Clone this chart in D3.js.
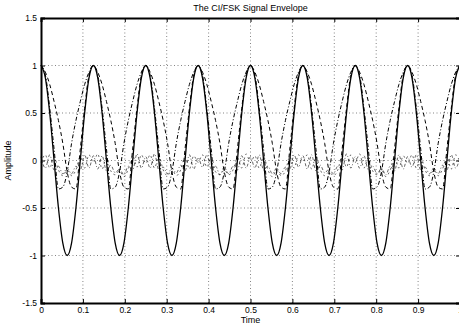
<!DOCTYPE html>
<html>
<head>
<meta charset="utf-8">
<script src="https://cdn.jsdelivr.net/npm/d3@7"></script>
<style>
  html, body { margin: 0; padding: 0; background: #fff; }
  svg { display: block; font-family: "Liberation Sans", Arial, sans-serif; }
</style>
</head>
<body>
<svg id="chart" width="459" height="329"></svg>
<script>
const W = 459, H = 329;
const margin = {top: 18, right: -1, bottom: 26, left: 41};

// sample spacing along Time (1/96 s)
const SAMPLE_STEP = 1 / 96;

const xTicks = [0, 0.1, 0.2, 0.3, 0.4, 0.5, 0.6, 0.7, 0.8, 0.9, 1];
const yTicks = [-1.5, -1, -0.5, 0, 0.5, 1, 1.5];

// solid carrier
const carrier = [
  1, .87, .5, 0, -.5, -.87, -1, -.87, -.5, 0, .5, .87,
  1, .87, .5, 0, -.5, -.87, -1, -.87, -.5, 0, .5, .87,
  1, .87, .5, 0, -.5, -.87, -1, -.87, -.5, 0, .5, .87,
  1, .87, .5, 0, -.5, -.87, -1, -.87, -.5, 0, .5, .87,
  1, .87, .5, 0, -.5, -.87, -1, -.87, -.5, 0, .5, .87,
  1, .87, .5, 0, -.5, -.87, -1, -.87, -.5, 0, .5, .87,
  1, .87, .5, 0, -.5, -.87, -1, -.87, -.5, 0, .5, .87,
  1, .87, .5, 0, -.5, -.87, -1, -.87, -.5, 0, .5, .87,
  1
];

// dashed envelope
const envA = [
  1, .93, .8, .62, .42, .18, -.12, -.28, -.3, .12, .55, .9,
  1, .93, .8, .62, .42, .18, -.12, -.28, -.3, .12, .55, .9,
  1, .93, .8, .62, .42, .18, -.12, -.28, -.3, .12, .55, .9,
  1, .93, .8, .62, .42, .18, -.12, -.28, -.3, .12, .55, .9,
  1, .93, .8, .62, .42, .18, -.12, -.28, -.3, .12, .55, .9,
  1, .93, .8, .62, .42, .18, -.12, -.28, -.3, .12, .55, .9,
  1, .93, .8, .62, .42, .18, -.12, -.28, -.3, .12, .55, .9,
  1, .93, .8, .62, .42, .18, -.12, -.28, -.3, .12, .55, .9,
  1
];

// dash-dot envelope
const envB = [
  1, .9, .55, .12, -.3, -.28, -.12, .18, .42, .62, .8, .93,
  1, .9, .55, .12, -.3, -.28, -.12, .18, .42, .62, .8, .93,
  1, .9, .55, .12, -.3, -.28, -.12, .18, .42, .62, .8, .93,
  1, .9, .55, .12, -.3, -.28, -.12, .18, .42, .62, .8, .93,
  1, .9, .55, .12, -.3, -.28, -.12, .18, .42, .62, .8, .93,
  1, .9, .55, .12, -.3, -.28, -.12, .18, .42, .62, .8, .93,
  1, .9, .55, .12, -.3, -.28, -.12, .18, .42, .62, .8, .93,
  1, .9, .55, .12, -.3, -.28, -.12, .18, .42, .62, .8, .93,
  1
];

// small residual envelopes around zero
const resid1 = [
  -.02, .06, -.08, .04, -.1, -.16, -.1, -.16, -.1, .04, -.08, .06,
  -.02, .07, -.09, .03, -.11, -.15, -.11, -.17, -.09, .05, -.07, .06,
  -.03, .06, -.08, .05, -.1, -.16, -.09, -.16, -.1, .04, -.09, .05,
  -.02, .06, -.07, .04, -.12, -.15, -.1, -.15, -.1, .03, -.08, .07,
  -.02, .05, -.08, .04, -.1, -.17, -.1, -.16, -.11, .04, -.08, .06,
  -.01, .06, -.09, .04, -.1, -.16, -.12, -.16, -.1, .05, -.07, .06,
  -.02, .07, -.08, .03, -.11, -.15, -.1, -.17, -.1, .04, -.08, .05,
  -.03, .06, -.08, .04, -.1, -.16, -.1, -.16, -.09, .04, -.09, .06,
  -.02
];

const resid2 = [
  .04, -.08, .06, -.1, -.06, -.14, -.08, -.14, -.06, -.1, .06, -.08,
  .05, -.09, .05, -.11, -.05, -.13, -.09, -.15, -.06, -.1, .07, -.08,
  .04, -.08, .07, -.1, -.07, -.14, -.08, -.13, -.05, -.11, .06, -.09,
  .03, -.07, .06, -.09, -.06, -.15, -.07, -.14, -.06, -.1, .05, -.08,
  .04, -.08, .06, -.1, -.06, -.14, -.08, -.14, -.07, -.09, .06, -.07,
  .05, -.09, .06, -.11, -.05, -.13, -.09, -.14, -.06, -.1, .07, -.08,
  .04, -.08, .05, -.1, -.06, -.14, -.08, -.15, -.06, -.11, .06, -.09,
  .04, -.07, .06, -.1, -.07, -.14, -.08, -.14, -.05, -.1, .06, -.08,
  .04
];

const svg = d3.select("#chart");
const x = d3.scaleLinear().domain([0, 1]).range([margin.left, W - margin.right]);
const y = d3.scaleLinear().domain([-1.5, 1.5]).range([H - margin.bottom, margin.top]);
const fmt = d => String(d);

// dotted grid
const grid = svg.append("g")
  .attr("stroke", "#000")
  .attr("stroke-width", 0.6)
  .attr("stroke-dasharray", "1,2.5")
  .attr("opacity", 0.8);
grid.selectAll("line.gx")
  .data(xTicks.filter(d => d > 0 && d < 1))
  .join("line")
  .attr("class", "gx")
  .attr("x1", d => x(d)).attr("x2", d => x(d))
  .attr("y1", y(-1.5)).attr("y2", y(1.5));
grid.selectAll("line.gy")
  .data(yTicks.filter(d => d > -1.5 && d < 1.5))
  .join("line")
  .attr("class", "gy")
  .attr("x1", x(0)).attr("x2", x(1))
  .attr("y1", d => y(d)).attr("y2", d => y(d));

const series = [
  {values: resid1, dash: "2,3", width: 0.6},
  {values: resid2, dash: "3,2,1,2", width: 0.6},
  {values: envB, dash: "4,2,1,2", width: 1},
  {values: envA, dash: "4,3", width: 1},
  {values: carrier, dash: null, width: 1.3}
];

const line = d3.line()
  .x((d, i) => x(i * SAMPLE_STEP))
  .y(d => y(d))
  .curve(d3.curveMonotoneX);

svg.append("g")
  .selectAll("path")
  .data(series)
  .join("path")
  .attr("d", d => line(d.values))
  .attr("fill", "none")
  .attr("stroke", "#000")
  .attr("stroke-width", d => d.width)
  .attr("stroke-dasharray", d => d.dash);

// axes box
const axisG = svg.append("g");
const styleAxis = g => {
  g.select(".domain").attr("stroke-width", 2);
  g.selectAll("text")
    .attr("fill", "#000")
    .attr("font-size", 8.5)
    .attr("font-family", "Liberation Sans, Arial, sans-serif");
};

axisG.append("g")
  .attr("transform", `translate(0,${y(-1.5)})`)
  .call(d3.axisBottom(x).tickValues(xTicks).tickSize(-4).tickPadding(4).tickFormat(fmt))
  .call(styleAxis);

axisG.append("g")
  .attr("transform", `translate(${x(0)},0)`)
  .call(d3.axisLeft(y).tickValues(yTicks).tickSize(-4).tickPadding(4).tickFormat(fmt))
  .call(styleAxis);

// top and right edges with ticks
axisG.append("g")
  .attr("transform", `translate(0,${y(1.5)})`)
  .call(d3.axisTop(x).tickValues(xTicks).tickSize(-4).tickFormat(""))
  .call(styleAxis);

axisG.append("g")
  .attr("transform", `translate(${x(1)},0)`)
  .call(d3.axisRight(y).tickValues(yTicks).tickSize(-4).tickFormat(""))
  .call(styleAxis);

// labels
svg.append("text")
  .attr("x", x(0.5)).attr("y", 11)
  .attr("text-anchor", "middle")
  .attr("font-size", 9)
  .text("The CI/FSK Signal Envelope");

svg.append("text")
  .attr("x", x(0.5)).attr("y", 323)
  .attr("text-anchor", "middle")
  .attr("font-size", 9)
  .text("Time");

svg.append("text")
  .attr("transform", `translate(11,${y(0)}) rotate(-90)`)
  .attr("text-anchor", "middle")
  .attr("font-size", 9)
  .text("Amplitude");
</script>
</body>
</html>
